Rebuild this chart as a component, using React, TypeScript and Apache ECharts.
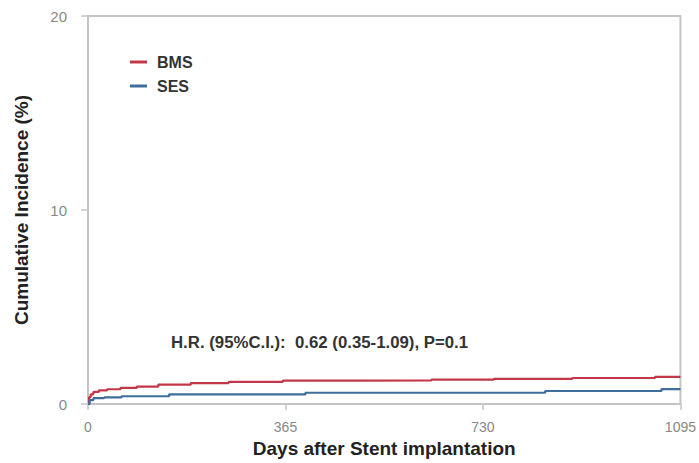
import React, { useEffect, useRef } from "react";
import * as echarts from "echarts";

const xTicks = [0, 365, 730, 1095];
const yTicks = [0, 10, 20];
const bmsDays = [0, 2, 5, 10, 20, 35, 60, 90, 130, 190, 260, 360, 500, 635, 750, 895, 1048, 1095];
const bmsVals = [0, 0.35, 0.5, 0.62, 0.7, 0.76, 0.83, 0.9, 1.0, 1.08, 1.14, 1.2, 1.22, 1.26, 1.3, 1.34, 1.4, 1.4];
const sesDays = [0, 3, 10, 30, 62, 150, 402, 845, 1060, 1095];
const sesVals = [0, 0.2, 0.3, 0.34, 0.4, 0.5, 0.58, 0.67, 0.77, 0.77];
const seriesNames = ["BMS", "SES"];
const colors = ["#c23848", "#3f6d9c"];
const annotation = "H.R. (95%C.I.):  0.62 (0.35-1.09), P=0.1";
const xTitle = "Days after Stent implantation";
const yTitle = "Cumulative Incidence (%)";

const FONT = "Liberation Sans, Arial, sans-serif";

export default function App() {
  const ref = useRef<HTMLDivElement>(null);
  useEffect(() => {
    if (!ref.current) return;
    const chart = echarts.init(ref.current, null, { renderer: "svg" });
    const mk = (d: number[], v: number[]) => d.map((x, i) => [x, v[i]]);
    chart.setOption({
      animation: false,
      textStyle: { fontFamily: FONT },
      grid: { left: 88, right: 18, top: 16, bottom: 59, show: true, borderColor: "#c4c4c4", borderWidth: 2 },
      legend: {
        orient: "vertical",
        left: 130,
        top: 54,
        padding: 0,
        itemGap: 8,
        itemWidth: 17,
        itemHeight: 3,
        icon: "rect",
        data: seriesNames,
        textStyle: { fontWeight: "bold", fontSize: 16, color: "#333", padding: [0, 0, 0, 5] },
      },
      xAxis: {
        type: "value",
        min: 0,
        max: 1095,
        interval: 365,
        name: xTitle,
        nameLocation: "middle",
        nameGap: 32,
        nameTextStyle: { fontWeight: "bold", fontSize: 19, color: "#222" },
        axisLine: { show: true, lineStyle: { color: "#c4c4c4", width: 2 } },
        axisTick: { show: true, length: 6, lineStyle: { color: "#c4c4c4", width: 1.5 } },
        axisLabel: {
          color: "#888",
          fontSize: 14,
          margin: 16,
          customValues: xTicks,
          formatter: (v: number) => String(v),
        },
        splitLine: { show: false },
      },
      yAxis: {
        type: "value",
        min: 0,
        max: 20,
        interval: 10,
        name: yTitle,
        nameLocation: "middle",
        nameGap: 57,
        nameTextStyle: { fontWeight: "bold", fontSize: 19, color: "#222" },
        axisLine: { show: true, lineStyle: { color: "#c4c4c4", width: 2 } },
        axisTick: { show: true, length: 7, lineStyle: { color: "#c4c4c4", width: 1.5 } },
        axisLabel: { color: "#888", fontSize: 15, margin: 21, customValues: yTicks },
        splitLine: { show: false },
      },
      series: [
        {
          name: seriesNames[0],
          type: "line",
          step: "end",
          showSymbol: false,
          data: mk(bmsDays, bmsVals),
          lineStyle: { color: colors[0], width: 2.2 },
          itemStyle: { color: colors[0] },
        },
        {
          name: seriesNames[1],
          type: "line",
          step: "end",
          showSymbol: false,
          data: mk(sesDays, sesVals),
          lineStyle: { color: colors[1], width: 2.2 },
          itemStyle: { color: colors[1] },
        },
      ],
      graphic: [
        {
          type: "text",
          left: 171,
          top: 334,
          style: { text: annotation, fontWeight: "bold", fontSize: 16.8, fill: "#333", fontFamily: FONT },
        },
      ],
    });
    return () => chart.dispose();
  }, []);
  return <div ref={ref} style={{ width: 699, height: 463, position: "absolute", left: 0, top: 0, background: "#fff" }} />;
}
